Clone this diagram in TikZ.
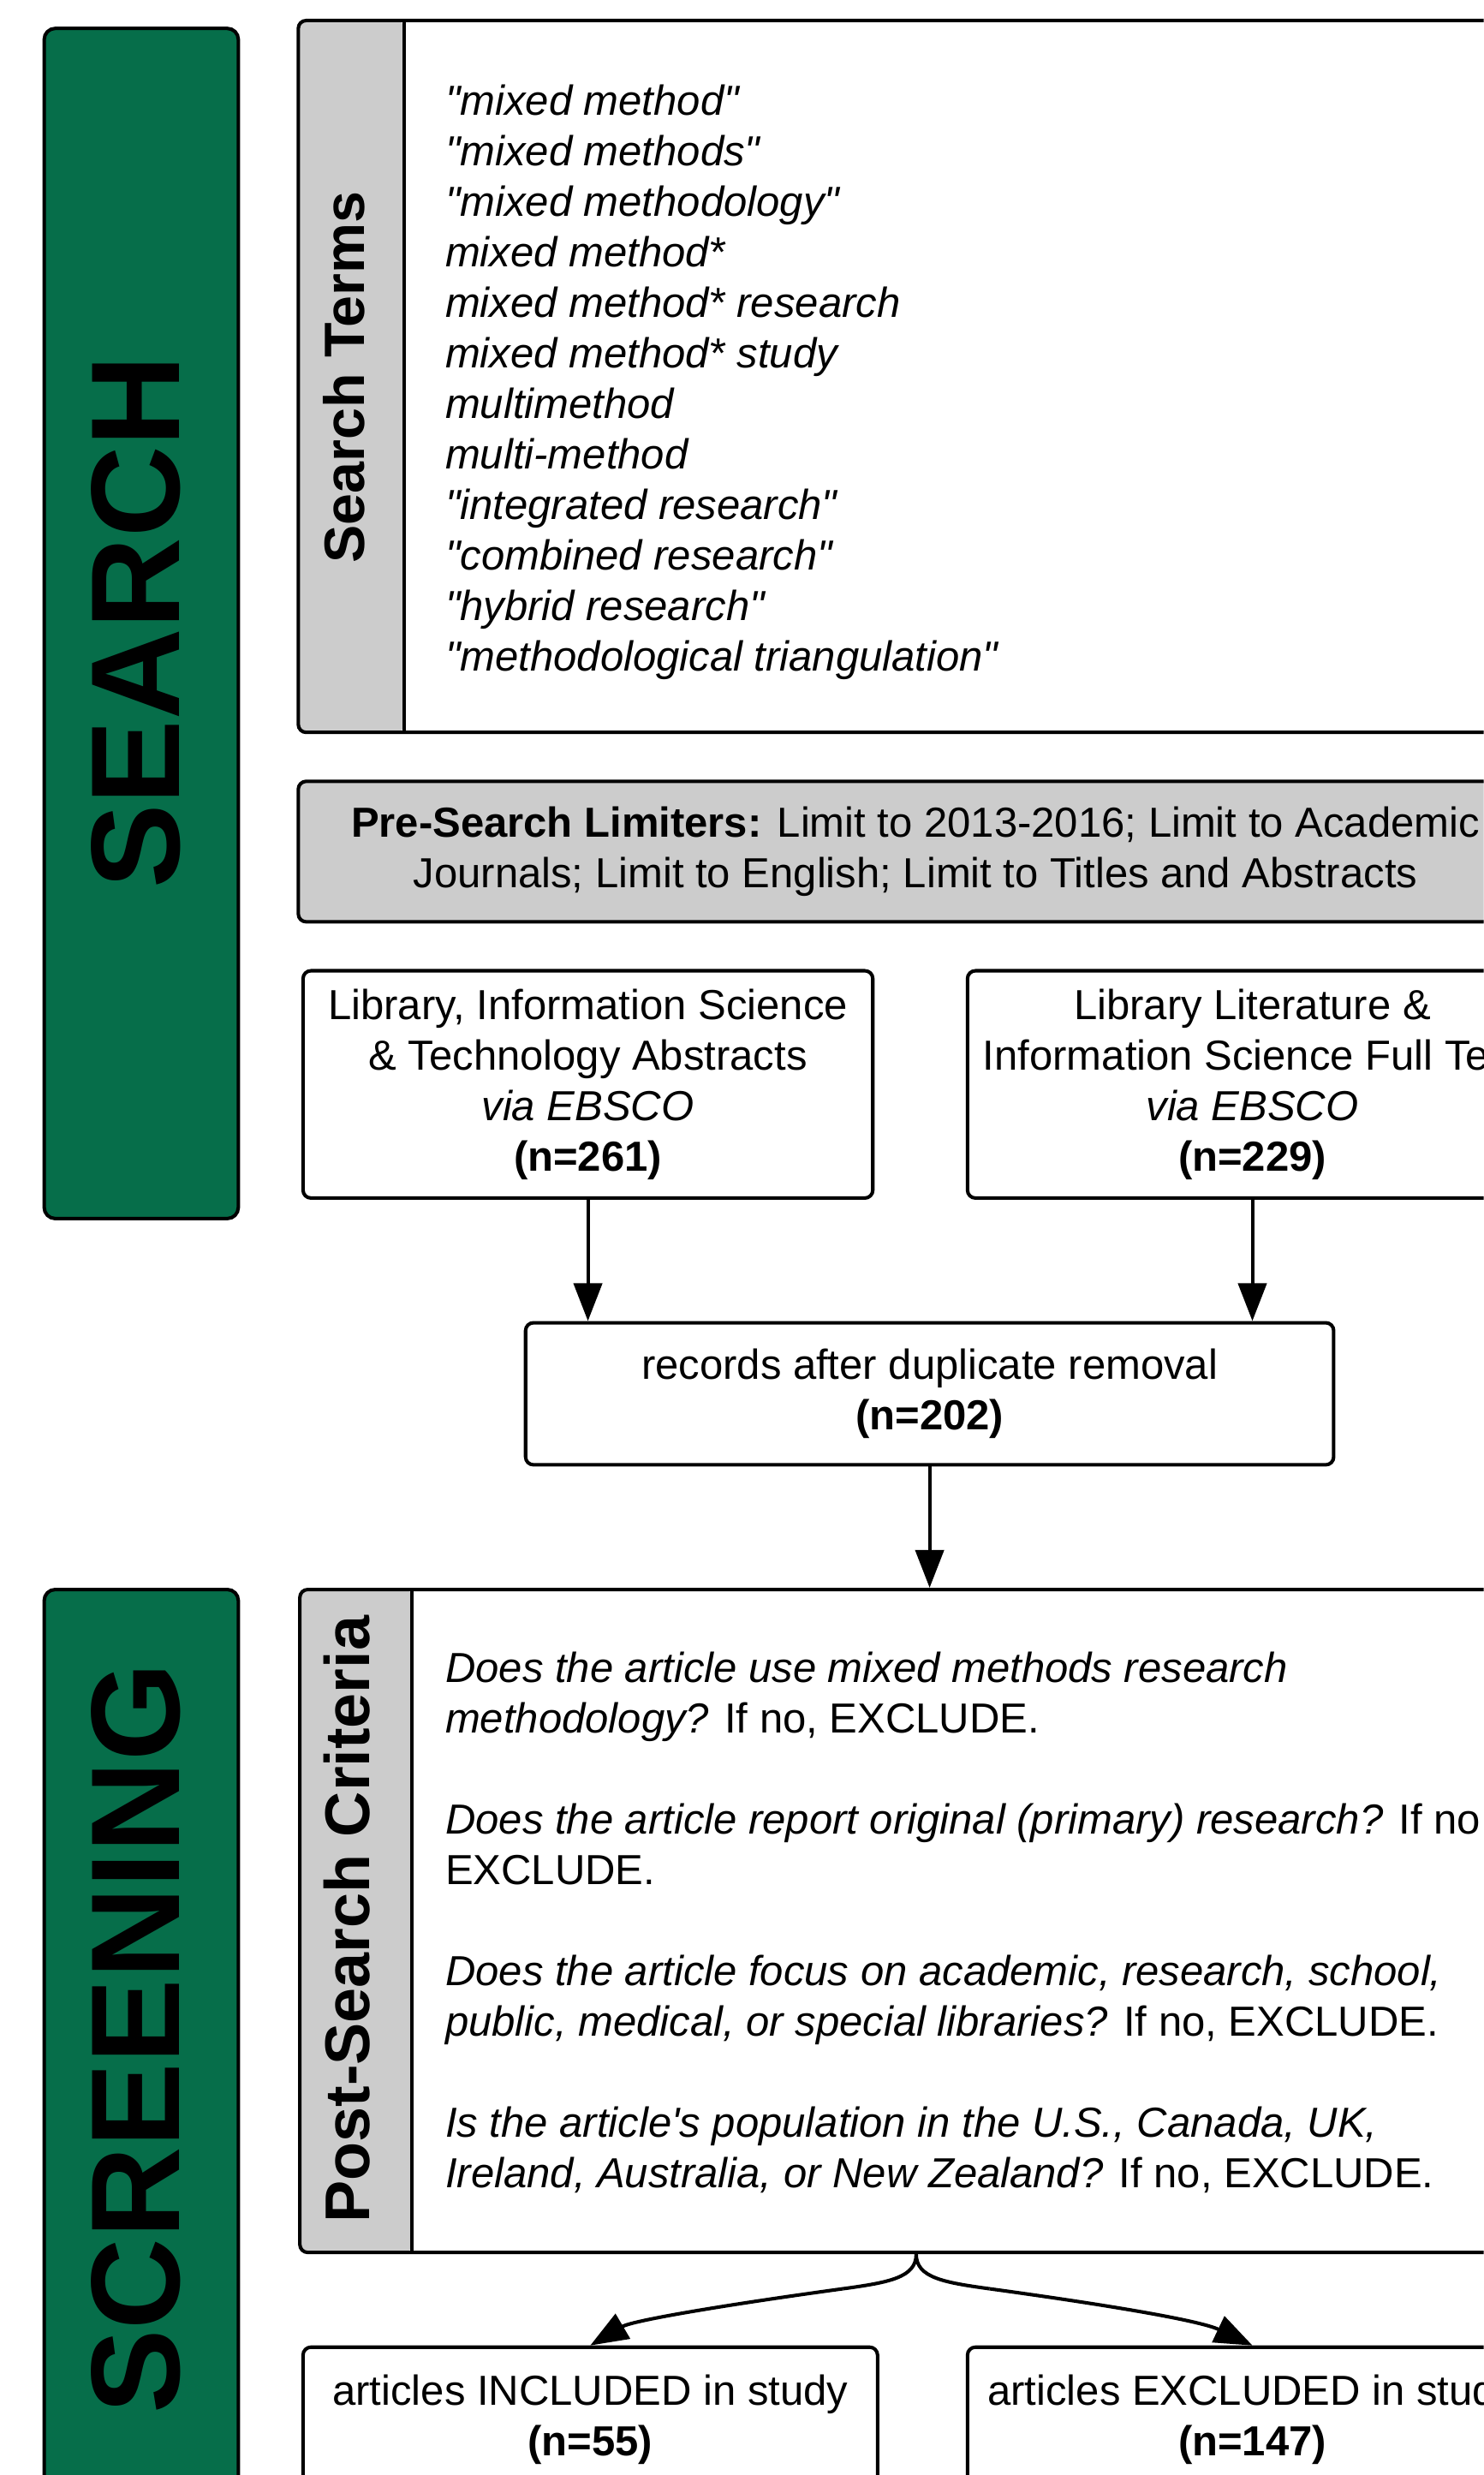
\documentclass[tikz,border=0pt]{standalone}
\usepackage{fontspec}
\setmainfont{Liberation Sans}
\usetikzlibrary{arrows.meta}
\definecolor{fgreen}{HTML}{066E4A}
\definecolor{lgrey}{HTML}{CCCCCC}
\newcommand{\bodyfont}{\fontsize{26.6}{32}\selectfont}
\newcommand{\dq}{\textquotedbl}
\begin{document}
\begin{tikzpicture}[x=1pt,y=-1pt,
  frame/.style={draw=black, line width=2.2pt, rounded corners=5pt, fill=white, inner sep=0pt},
  txtbox/.style={frame, align=center, font=\bodyfont},
  phase/.style={draw=black, line width=2.2pt, rounded corners=7pt, fill=fgreen, inner sep=0pt, minimum width=123pt},
  biglabel/.style={rotate=90, font=\fontsize{80}{80}\selectfont\bfseries, inner sep=0pt},
  sidelabel/.style={rotate=90, inner sep=0pt},
  listtext/.style={anchor=base west, inner sep=0pt},
  arr/.style={line width=2.2pt, -{Triangle[length=24pt,width=18pt]}},
]
\useasboundingbox (0,0) rectangle (940,1568);
\clip (0,0) rectangle (940,1568);

% phase bars
\node[phase, minimum height=754pt] (g1) at (89.5,395) {};
\node[biglabel] (searchlbl) at (86,394) {SEARCH};
\node[phase, minimum height=600pt] (g2) at (89.5,1307) {};
\node[biglabel] (screenlbl) at (86,1291.5) {SCREENING};

% search terms box
\node[frame, minimum width=782pt, minimum height=451pt,
  path picture={
    \fill[lgrey] (path picture bounding box.north west) rectangle ([xshift=67pt]path picture bounding box.south west);
    \draw[line width=2.2pt] ([xshift=67pt]path picture bounding box.north west) -- ([xshift=67pt]path picture bounding box.south west);
  }] (terms) at (580,238.5) {};
\node[sidelabel, font=\fontsize{36}{36}\selectfont\bfseries] (termslbl) at (218,239) {Search Terms};
\node[listtext] (termlist) at (282,73) {\parbox[t]{620pt}{\raggedright\bodyfont\itshape
\dq mixed method\dq\\
\dq mixed methods\dq\\
\dq mixed methodology\dq\\
mixed method*\\
mixed method* research\\
mixed method* study\\
multimethod\\
multi-method\\
\dq integrated research\dq\\
\dq combined research\dq\\
\dq hybrid research\dq\\
\dq methodological triangulation\dq}};

% limiters
\node[txtbox, fill=lgrey, minimum width=782pt, minimum height=89pt] (limits) at (580,539.5)
  {\textbf{Pre-Search Limiters:} Limit to 2013-2016; Limit to Academic\\Journals; Limit to English; Limit to Titles and Abstracts};

% databases
\node[txtbox, minimum width=361pt, minimum height=144pt] (lib1) at (372.5,687)
  {Library, Information Science\\\& Technology Abstracts\\\textit{via EBSCO}\\\textbf{(n=261)}};
\node[txtbox, minimum width=361pt, minimum height=144pt] (lib2) at (793.5,687)
  {Library Literature \&\\Information Science Full Text\\\textit{via EBSCO}\\\textbf{(n=229)}};

% records
\node[txtbox, minimum width=512pt, minimum height=90pt] (rec) at (589,883)
  {records after duplicate removal\\\textbf{(n=202)}};

% post-search criteria
\node[frame, minimum width=781pt, minimum height=420pt,
  path picture={
    \fill[lgrey] (path picture bounding box.north west) rectangle ([xshift=71pt]path picture bounding box.south west);
    \draw[line width=2.2pt] ([xshift=71pt]path picture bounding box.north west) -- ([xshift=71pt]path picture bounding box.south west);
  }] (post) at (580.5,1217) {};
\node[sidelabel, font=\fontsize{40}{40}\selectfont\bfseries] (postlbl) at (220,1216) {Post-Search Criteria};
\node[listtext] (crit) at (282,1066) {\parbox[t]{720pt}{\raggedright\bodyfont
\textit{Does the article use mixed methods research}\\
\textit{methodology?} If no, EXCLUDE.\\[32pt]
\textit{Does the article report original (primary) research?} If no,\\
EXCLUDE.\\[32pt]
\textit{Does the article focus on academic, research, school,}\\
\textit{public, medical, or special libraries?} If no, EXCLUDE.\\[32pt]
\textit{Is the article\textquotesingle s population in the U.S., Canada, UK,}\\
\textit{Ireland, Australia, or New Zealand?} If no, EXCLUDE.}};

% outcomes
\node[txtbox, minimum width=364pt, minimum height=92pt] (incl) at (374,1533)
  {articles INCLUDED in study\\\textbf{(n=55)}};
\node[txtbox, minimum width=361pt, minimum height=92pt] (excl) at (793.5,1533)
  {articles EXCLUDED in study\\\textbf{(n=147)}};

% connectors
\draw[arr] (lib1.south) -- (lib1.south |- rec.north);
\draw[arr] (lib2.south) -- (lib2.south |- rec.north);
\draw[arr] (rec.south) -- (rec.south |- post.north);
\coordinate (lmid) at (534,1450);
\coordinate (rmid) at (627,1450);
\draw[line width=2.2pt] (post.south) .. controls (580.5,1443) and (563,1446) .. (lmid);
\draw[arr] (lmid) .. controls (461,1460) and (401,1470) .. (incl.north);
\draw[line width=2.2pt] (post.south) .. controls (580.5,1443) and (598,1446) .. (rmid);
\draw[arr] (rmid) .. controls (700,1460) and (760,1470) .. (excl.north);
\end{tikzpicture}
\end{document}
